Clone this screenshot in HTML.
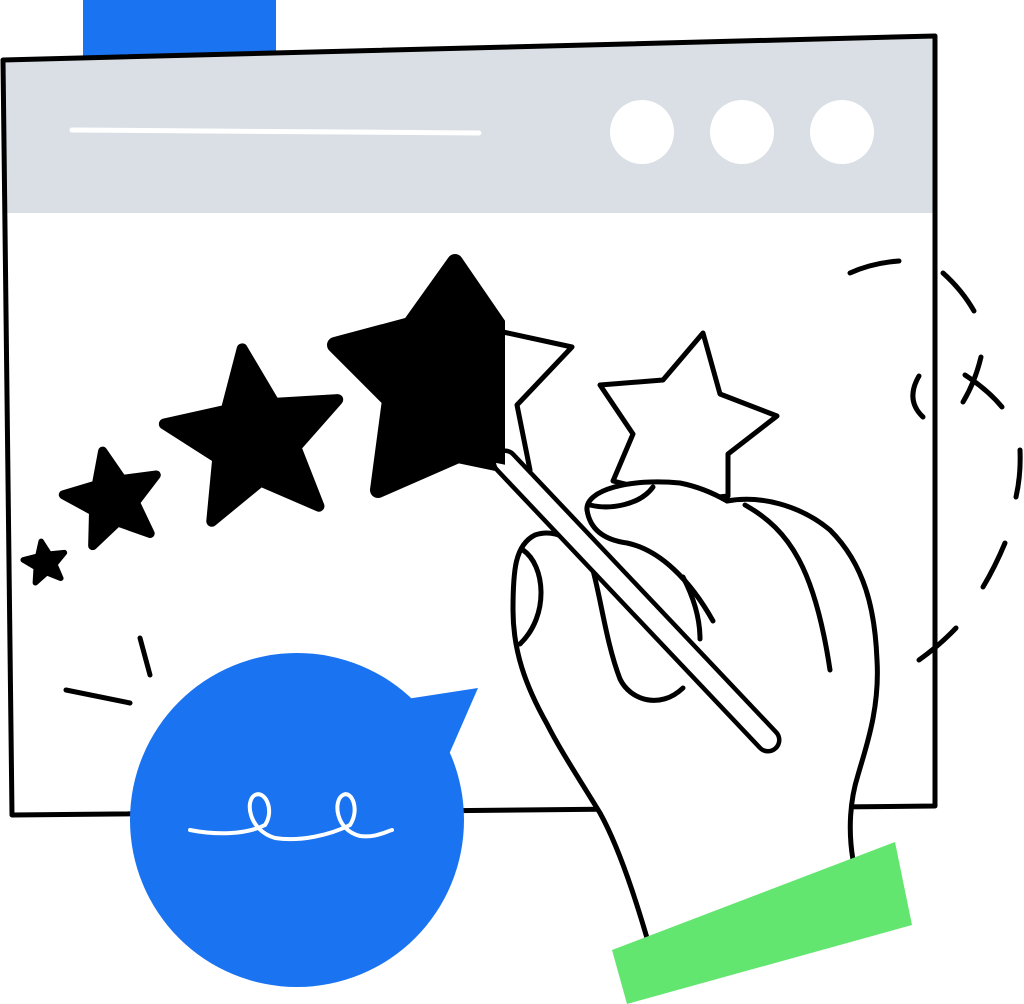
<!DOCTYPE html>
<html><head><meta charset="utf-8"><style>html,body{margin:0;padding:0;background:#fff}svg{display:block}</style></head>
<body>
<svg width="1024" height="1004" viewBox="0 0 1024 1004" xmlns="http://www.w3.org/2000/svg">
<defs>
<clipPath id="lefthalf"><rect x="0" y="0" width="505" height="1004"/></clipPath>
<polygon id="st" points="0,-1 .265,-.364 .951,-.309 .428,.139 .588,.809 0,.45 -.588,.809 -.428,.139 -.951,-.309 -.265,-.364"/>
</defs>
<rect x="83" y="0" width="193" height="60" fill="#1a73f0"/>
<polygon points="3,60 935,36 935,806 12,815" fill="#fff"/>
<polygon points="3,60 935,36 935,213 3,213" fill="#dadfe5"/>
<polygon points="3,60 935,36 935,806 12,815" fill="none" stroke="#000" stroke-width="5" stroke-linejoin="round"/>
<line x1="72" y1="130" x2="479" y2="133" stroke="#fff" stroke-width="5" stroke-linecap="round"/>
<circle cx="642" cy="132" r="32" fill="#fff"/>
<circle cx="742" cy="132" r="32" fill="#fff"/>
<circle cx="842" cy="132" r="32" fill="#fff"/>
<g stroke="#000" stroke-width="5" stroke-linecap="round" fill="none">
<path d="M850,273 Q872,263 899,261"/>
<path d="M943,273 Q962,290 974,311"/>
<path d="M981,357 Q975,382 963,402"/>
<path d="M965,375 Q988,390 1002,407"/>
<path d="M919,376 Q905,400 923,417"/>
<path d="M1020,450 Q1021,475 1016,497"/>
<path d="M1005,543 Q995,567 983,587"/>
<path d="M956,628 Q940,645 919,660"/>
<line x1="140" y1="638" x2="150" y2="675"/>
<line x1="66" y1="690" x2="130" y2="703"/>
</g>
<g fill="#000" stroke="#000" stroke-linejoin="round">
<use href="#st" transform="translate(45,563) rotate(-10) scale(22)" stroke-width="0.25"/>
<use href="#st" transform="translate(113,500) rotate(-12) scale(50)" stroke-width="0.18"/>
<use href="#st" transform="translate(255,440) rotate(-8) scale(92)" stroke-width="0.12"/>
</g>
<path d="M455,262 L503,332 L572,347 L517,405 L530,470 L458,455 L378,490 L390,400 L335,345 L410,325 Z" fill="#fff" stroke="#000" stroke-width="5" stroke-linejoin="round"/>
<path clip-path="url(#lefthalf)" d="M455,262 L503,332 L572,347 L517,405 L530,470 L458,455 L378,490 L390,400 L335,345 L410,325 Z" fill="#000" stroke="#000" stroke-width="16" stroke-linejoin="round"/>
<path d="M703,333 L720,394 L777,416 L728,454 L728,496 L690,500 L613,481 L633,434 L600,385 L663,380 Z" fill="#fff" stroke="#000" stroke-width="5" stroke-linejoin="round"/>
<!-- hand -->
<path d="M647,940 C630,880 615,840 600,813 C580,780 560,750 547,724 C525,685 513,650 513,610 C513,570 515,545 535,535 C550,530 565,540 575,550 L587,510 C590,490 630,478 680,483 C700,487 715,494 727,501 C760,495 800,505 830,530 C865,565 875,610 877,660 C880,710 865,750 858,775 C850,800 848,830 853,860 L860,940 Z" fill="#fff"/>
<g stroke="#000" stroke-width="5" stroke-linecap="round" fill="none">
<path d="M647,938 C630,880 615,840 600,813 C580,780 560,750 547,724 C525,685 513,650 513,610 C513,570 515,545 535,535 C555,528 575,540 590,560 C600,590 605,640 620,679 C630,700 660,710 683,688"/>
<path d="M587,510 C585,490 630,478 680,483 C700,487 715,494 727,501 C760,495 800,505 830,530 C865,565 875,610 877,660 C880,710 865,750 858,775 C850,800 848,830 853,860"/>
<path d="M587,510 C590,530 605,540 627,543 C660,550 690,580 713,621"/>
<path d="M683,577 C695,600 700,620 700,639"/>
<path d="M745,505 C790,530 815,570 830,670"/>
<path d="M590,505 C610,510 640,505 653,487"/>
<path d="M523,550 C545,565 550,615 520,644"/>
</g>
<!-- pen -->
<line x1="505" y1="462" x2="768" y2="740" stroke="#000" stroke-width="27" stroke-linecap="round"/>
<line x1="505" y1="462" x2="768" y2="740" stroke="#fff" stroke-width="18" stroke-linecap="round"/>
<path clip-path="url(#lefthalf)" d="M458,455 L530,470 L500,430 Z" fill="#000"/>
<polygon points="612,950 895,842 912,925 627,1004" fill="#63e66f"/>
<polygon points="400,700 478,688 440,775" fill="#1a73f0"/>
<circle cx="297" cy="820" r="167" fill="#1a73f0"/>
<path d="M190,830 C215,835 245,835 265,825 C275,810 265,790 255,795 C245,800 248,830 275,838 C300,842 330,835 350,825 C360,810 352,790 343,795 C333,800 335,830 360,836 C375,838 385,832 392,830" fill="none" stroke="#fff" stroke-width="4" stroke-linecap="round"/>
</svg>
</body></html>
